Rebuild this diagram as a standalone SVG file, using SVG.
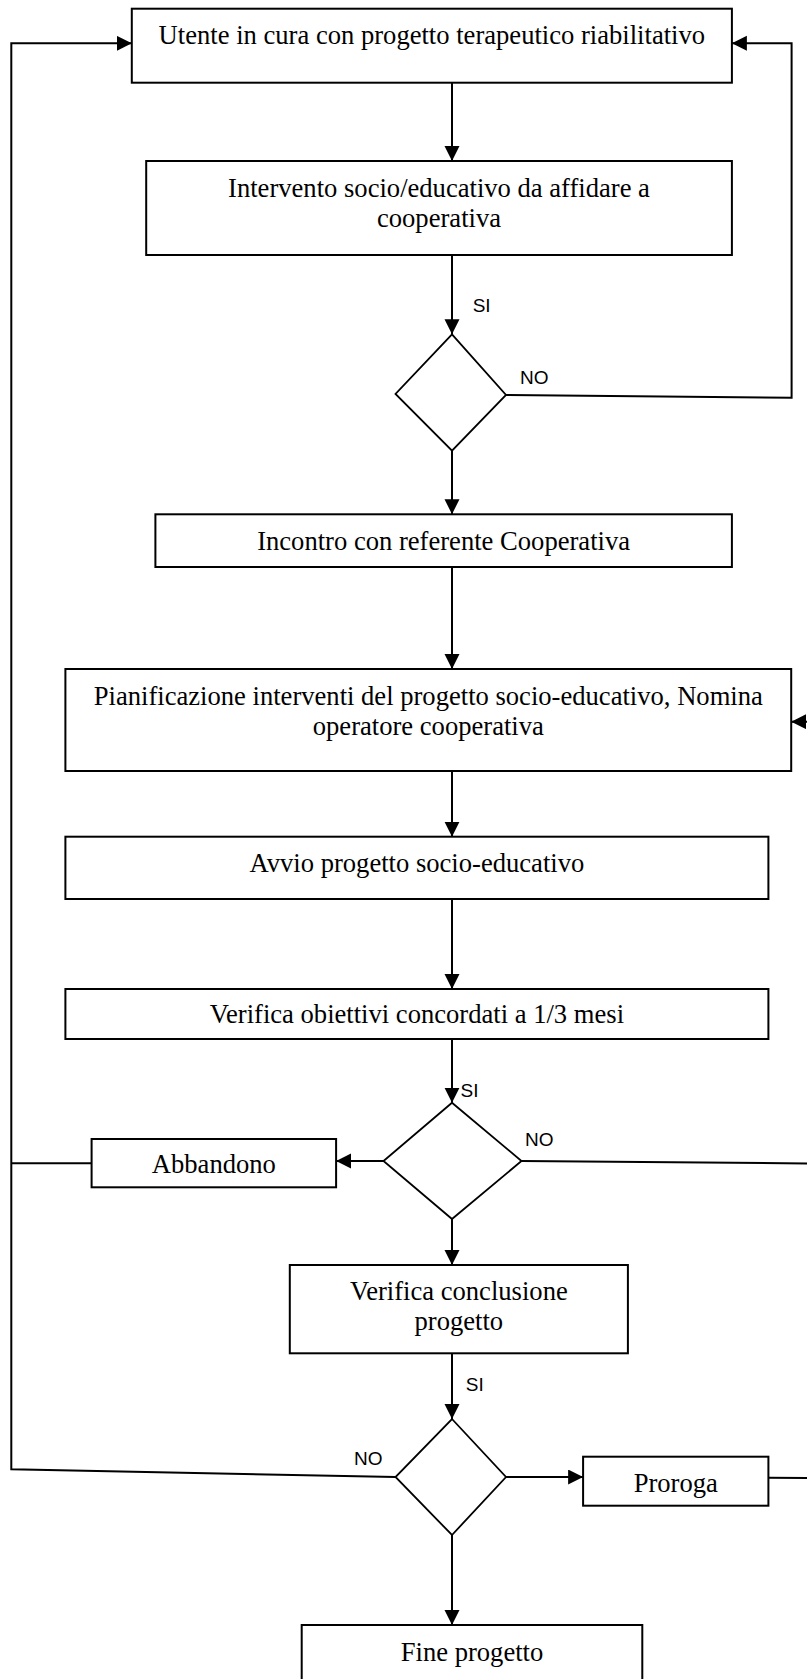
<svg xmlns="http://www.w3.org/2000/svg" width="807" height="1679" viewBox="0 0 807 1679">
<style>
.box{fill:#fff;stroke:#000;stroke-width:2}
.dia{fill:#fff;stroke:#000;stroke-width:1.8}
.t{font-family:"Liberation Serif","Times New Roman",serif;font-size:26.6px;fill:#000;text-anchor:middle}
.lbl{font-family:"Liberation Sans",Arial,sans-serif;font-size:19px;fill:#000}
.c{fill:none;stroke:#000;stroke-width:2}
</style>
<defs>
<marker id="arr" markerUnits="userSpaceOnUse" markerWidth="16" markerHeight="16" refX="15" refY="7.5" orient="auto" viewBox="0 0 16 16">
<path d="M0,0 L15,7.5 L0,15 Z" fill="#000"/>
</marker>
</defs>
<rect width="807" height="1679" fill="#fff"/>
<g id="connectors">
<path class="c" d="M452 82.7 L452 161" marker-end="url(#arr)"/>
<path class="c" d="M452 255 L452 334.3" marker-end="url(#arr)"/>
<path class="c" d="M506 395 L791.6 397.7 L791.6 43.3 L731.9 43.3" marker-end="url(#arr)"/>
<path class="c" d="M452 450.7 L452 514.3" marker-end="url(#arr)"/>
<path class="c" d="M452 567 L452 669" marker-end="url(#arr)"/>
<path class="c" d="M452 771 L452 836.7" marker-end="url(#arr)"/>
<path class="c" d="M452 899 L452 989" marker-end="url(#arr)"/>
<path class="c" d="M452 1039 L452 1102.7" marker-end="url(#arr)"/>
<path class="c" d="M383.5 1161 L336.1 1161" marker-end="url(#arr)"/>
<path class="c" d="M91.6 1163.3 L11.3 1163.3"/>
<path class="c" d="M521.5 1161 L815 1163.5 L815 721.7 L791.2 721.7" marker-end="url(#arr)"/>
<path class="c" d="M452 1219 L452 1265" marker-end="url(#arr)"/>
<path class="c" d="M452 1353.3 L452 1419" marker-end="url(#arr)"/>
<path class="c" d="M395.5 1477 L11.3 1469.3 L11.3 43.3 L131.8 43.3" marker-end="url(#arr)"/>
<path class="c" d="M506 1477 L583.1 1477" marker-end="url(#arr)"/>
<path class="c" d="M768.4 1477.7 L815 1478 L815 1163.5"/>
<path class="c" d="M452 1535 L452 1625" marker-end="url(#arr)"/>
</g>
<g id="n1"><rect class="box" x="131.8" y="8.7" width="600.1" height="74"/><text class="t" x="431.85" y="44">Utente in cura con progetto terapeutico riabilitativo</text></g>
<g id="n2"><rect class="box" x="146.2" y="161" width="585.7" height="94"/><text class="t" x="439" y="196.5">Intervento socio/educativo da affidare a</text><text class="t" x="439" y="226.5">cooperativa</text></g>
<g id="d1"><polygon class="dia" points="452,334.3 506,395 452,450.7 395.5,394"/><text class="lbl" x="472.7" y="311.7">SI</text><text class="lbl" x="520" y="384.3">NO</text></g>
<g id="n3"><rect class="box" x="155.4" y="514.3" width="576.5" height="52.7"/><text class="t" x="443.6" y="550">Incontro con referente Cooperativa</text></g>
<g id="n4"><rect class="box" x="65.4" y="669" width="725.8" height="102"/><text class="t" x="428.3" y="705">Pianificazione interventi del progetto socio-educativo, Nomina</text><text class="t" x="428.3" y="735">operatore cooperativa</text></g>
<g id="n5"><rect class="box" x="65.4" y="836.7" width="703" height="62.3"/><text class="t" x="416.9" y="871.7">Avvio progetto socio-educativo</text></g>
<g id="n6"><rect class="box" x="65.4" y="989" width="703" height="50"/><text class="t" x="416.9" y="1023.3">Verifica obiettivi concordati a 1/3 mesi</text></g>
<g id="d2"><polygon class="dia" points="452,1102.7 521.5,1161 452,1219 383.5,1161"/><text class="lbl" x="460.6" y="1096.7">SI</text><text class="lbl" x="525" y="1146">NO</text></g>
<g id="n7"><rect class="box" x="91.6" y="1139" width="244.5" height="48.3"/><text class="t" x="213.85" y="1173.3">Abbandono</text></g>
<g id="n8"><rect class="box" x="289.8" y="1265" width="338.1" height="88.3"/><text class="t" x="458.85" y="1300">Verifica conclusione</text><text class="t" x="458.85" y="1330">progetto</text></g>
<g id="d3"><polygon class="dia" points="452,1419 506,1477 452,1535 395.5,1477"/><text class="lbl" x="465.8" y="1390.7">SI</text><text class="lbl" x="354.1" y="1465">NO</text></g>
<g id="n9"><rect class="box" x="583.1" y="1456.7" width="185.3" height="49"/><text class="t" x="675.75" y="1491.7">Proroga</text></g>
<g id="n10"><rect class="box" x="301.7" y="1625" width="340.6" height="90"/><text class="t" x="472" y="1661">Fine progetto</text></g>
</svg>
